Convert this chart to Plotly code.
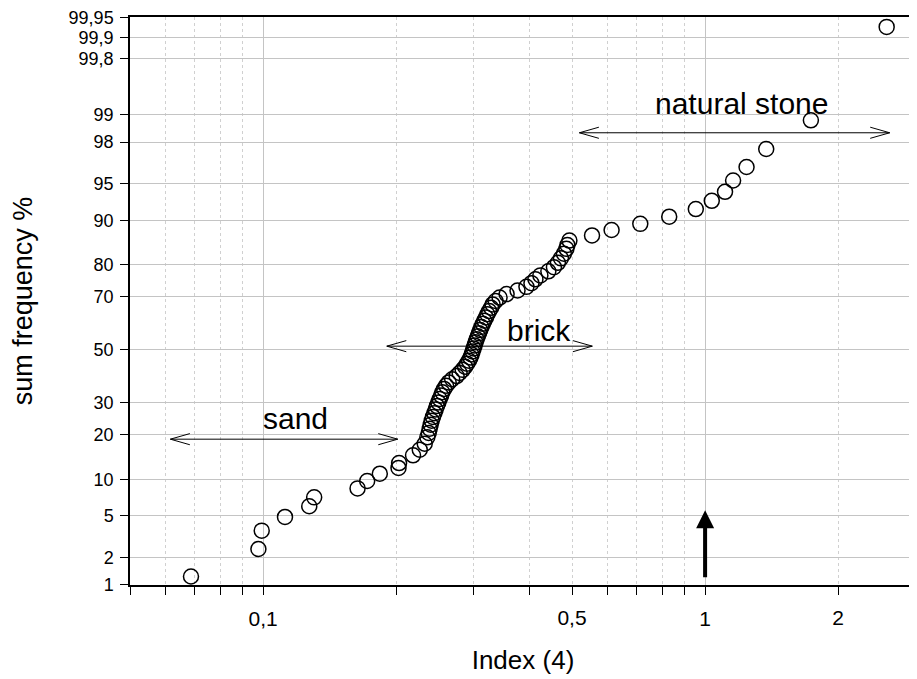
import math
from statistics import NormalDist
import plotly.graph_objects as go

# ---------------- data ----------------
index_values = [
    0.0687, 0.0976, 0.0993, 0.1121, 0.1272, 0.1305, 0.1636, 0.1720, 0.1837, 0.2025,
    0.2031, 0.2184, 0.2262, 0.2321, 0.2353,
    0.2370, 0.2382, 0.2394, 0.2407, 0.2423, 0.2441, 0.2457, 0.2474, 0.2492, 0.2509,
    0.2528, 0.2544, 0.2568, 0.2595, 0.2630, 0.2678, 0.2741, 0.2784, 0.2828, 0.2865,
    0.2894, 0.2922, 0.2945, 0.2963, 0.2978, 0.2994, 0.3010, 0.3026, 0.3042, 0.3061,
    0.3080, 0.3099, 0.3119, 0.3142, 0.3166, 0.3193, 0.3217, 0.3246, 0.3280, 0.3306,
    0.3357, 0.3428, 0.3556, 0.3764, 0.3943, 0.4047, 0.4132, 0.4240, 0.4420, 0.4550,
    0.4645, 0.4719, 0.4793, 0.4856, 0.4881, 0.4932,
    0.5549, 0.6144, 0.7135, 0.8295, 0.9528, 1.0354, 1.1094, 1.157, 1.241, 1.375,
    1.735, 2.575,
]
sum_frequency = [
    1.24, 2.43, 3.67, 4.9, 6.07, 7.2, 8.5, 9.7, 11.0, 12.1,
    13.1, 14.8, 16.1, 17.6, 19.3,
    20.5, 21.7, 22.9, 24.1, 25.3, 26.5, 27.7, 28.9, 30.1, 31.3,
    32.5, 33.7, 34.9, 36.1, 37.3, 38.5, 39.7, 40.9, 42.1, 43.3,
    44.5, 45.7, 46.9, 48.1, 49.3, 50.5, 51.7, 52.9, 54.1, 55.3,
    56.5, 57.7, 58.9, 60.1, 61.3, 62.5, 63.7, 64.9, 66.1, 67.3,
    68.5, 69.7, 70.9, 72.1, 73.3, 74.5, 75.7, 76.9, 78.1, 79.3,
    80.5, 81.7, 82.9, 84.1, 85.0, 86.0,
    87.1, 88.2, 89.35, 90.6, 91.8, 92.97, 94.09, 95.3, 96.47, 97.65,
    98.84, 99.93,
]

y_tick_values = [1, 2, 5, 10, 20, 30, 50, 70, 80, 90, 95, 98, 99, 99.8, 99.9, 99.95]
y_tick_labels = ["1", "2", "5", "10", "20", "30", "50", "70", "80", "90", "95",
                 "98", "99", "99,8", "99,9", "99,95"]
x_major_ticks = [0.1, 1]
x_major_labels = ["0,1", "1"]
x_extra_ticks = [0.5, 2]
x_extra_labels = ["0,5", "2"]
x_minor_ticks = [0.05, 0.06, 0.07, 0.08, 0.09, 0.2, 0.3, 0.4, 0.5, 0.6, 0.7, 0.8, 0.9, 2, 3]
x_range = [0.05, 3]
y_range = [1, 99.95]

# (label, arrow from, arrow to, arrow level %, text x, text level %)
ranges = [
    ("sand", 0.0617, 0.2017, 18.8, 0.1181, 24.8),
    ("brick", 0.1905, 0.5557, 51.4, 0.4219, 57.7),
    ("natural stone", 0.5195, 2.616, 98.41, 1.206, 99.26),
]
marker_arrow = (1, 1.17, 5.6)

# ---------------- helpers ----------------
nd = NormalDist()
def probit(p):
    return nd.inv_cdf(p / 100.0)

FONT = "Liberation Sans, Arial, sans-serif"
X_TICK_SIZE = 21
Y_TICK_SIZE = 18

fig = go.Figure()
fig.add_trace(go.Scatter(
    x=index_values, y=[probit(p) for p in sum_frequency],
    mode="markers",
    marker=dict(symbol="circle-open", size=15, color="black", line=dict(width=1.5, color="black")),
    showlegend=False, hoverinfo="skip",
))
fig.add_trace(go.Scatter(x=[], y=[], xaxis="x2", showlegend=False))

xr = [math.log10(x_range[0]), math.log10(x_range[1])]
yr = [probit(y_range[0]) - 0.002, probit(y_range[1]) + 0.002]

# the page body has an 8 px margin, so the figure is 8 px smaller
fig.update_layout(
    width=909, height=671,
    margin=dict(l=122, r=1, t=9, b=94),
    paper_bgcolor="white", plot_bgcolor="white",
    font=dict(family=FONT, color="black", size=X_TICK_SIZE),
    xaxis=dict(
        type="log", range=xr,
        tickmode="array", tickvals=x_major_ticks, ticktext=x_major_labels,
        ticks="outside", ticklen=8, tickwidth=1, tickcolor="black",
        showgrid=True, gridcolor="#c4c4c4", gridwidth=1,
        minor=dict(tickmode="array", tickvals=x_minor_ticks, ticks="outside", ticklen=8,
                   tickcolor="black", showgrid=True, gridcolor="#d0d0d0", griddash="dot", gridwidth=1),
        showline=True, linecolor="black", linewidth=1.5, mirror=True,
        zeroline=False, ticklabelstandoff=6,
        tickfont=dict(size=X_TICK_SIZE),
        title=dict(text="Index (4)", font=dict(size=26), standoff=22),
        automargin=False,
    ),
    xaxis2=dict(
        type="log", range=xr, overlaying="x", anchor="y", side="bottom",
        tickmode="array", tickvals=x_extra_ticks, ticktext=x_extra_labels,
        ticks="outside", ticklen=8, tickcolor="black",
        showgrid=False, showline=False, zeroline=False, ticklabelstandoff=6,
        tickfont=dict(size=X_TICK_SIZE), automargin=False,
    ),
    yaxis=dict(
        range=yr, tickmode="array", tickvals=[probit(v) for v in y_tick_values],
        ticktext=y_tick_labels, ticklabeloverflow="allow",
        ticks="outside", ticklen=8, tickcolor="black",
        showgrid=True, gridcolor="#c4c4c4", gridwidth=1, zeroline=False,
        showline=True, linecolor="black", linewidth=1.5, mirror=True,
        ticklabelstandoff=3, tickfont=dict(size=Y_TICK_SIZE),
        title=dict(text="sum frequency %", font=dict(size=27), standoff=38),
        automargin=False,
    ),
)

shapes = []
annotations = []
for name, x0, x1, p, tx, tp in ranges:
    yv = probit(p)
    shapes.append(dict(type="line", xref="x", yref="y", x0=x0, x1=x1, y0=yv, y1=yv,
                       line=dict(color="black", width=1)))
    # open V arrow heads drawn as head-less annotation arrows (pixel offsets)
    for tip, dx in ((x0, 21), (x1, -21)):
        for dy in (6, -6):
            annotations.append(dict(text="", x=math.log10(tip), y=yv, xref="x", yref="y",
                                    ax=dx, ay=dy, showarrow=True, arrowhead=0,
                                    arrowwidth=1, arrowcolor="black", standoff=0,
                                    startstandoff=0))
    annotations.append(dict(text=name, x=math.log10(tx), y=probit(tp), xref="x", yref="y",
                            showarrow=False, font=dict(size=30, family=FONT)))

ax_x, ay_p, tip_p = marker_arrow
annotations.append(dict(text="", x=math.log10(ax_x), y=probit(tip_p), xref="x", yref="y",
                        ax=math.log10(ax_x), ay=probit(ay_p), axref="x", ayref="y",
                        showarrow=True, arrowhead=2, arrowwidth=4, arrowsize=0.9,
                        arrowcolor="black"))

fig.update_layout(shapes=shapes, annotations=annotations)
fig.write_html("out.html")
